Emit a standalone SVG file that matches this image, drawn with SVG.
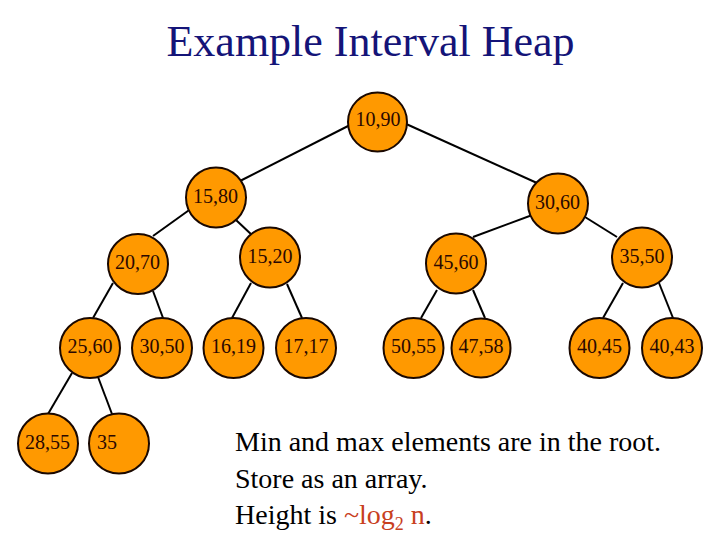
<svg xmlns="http://www.w3.org/2000/svg" width="720" height="540" viewBox="0 0 720 540">
<style>
.n circle{fill:#ff9900;stroke:#1a0800;stroke-width:2}
.n text{font-family:"Liberation Serif","Times New Roman",serif;font-size:20px;fill:#2a0800;text-anchor:middle}
.e line{stroke:#000;stroke-width:2}
.t{font-family:"Liberation Serif","Times New Roman",serif;font-size:28px;fill:#000}
.r{fill:#c8401e}
</style>
<rect width="720" height="540" fill="#fff"/>
<text x="370.5" y="56" font-family="'Liberation Serif','Times New Roman',serif" font-size="44" fill="#141478" text-anchor="middle">Example Interval Heap</text>
<g id="connectors" class="e">
<line x1="352" y1="124" x2="240" y2="181"/>
<line x1="404" y1="123" x2="537" y2="183"/>
<line x1="192" y1="208" x2="153" y2="236"/>
<line x1="236" y1="220" x2="253" y2="236"/>
<line x1="535" y1="214" x2="473" y2="237"/>
<line x1="585" y1="217" x2="617" y2="237"/>
<line x1="113" y1="283" x2="93" y2="318"/>
<line x1="153" y1="291" x2="163" y2="318"/>
<line x1="251" y1="283" x2="232" y2="318"/>
<line x1="287" y1="284" x2="302" y2="318"/>
<line x1="437" y1="290" x2="421" y2="318"/>
<line x1="473" y1="290" x2="485" y2="318"/>
<line x1="623" y1="283" x2="603" y2="318"/>
<line x1="659" y1="283" x2="673" y2="318"/>
<line x1="72" y1="373" x2="48" y2="414"/>
<line x1="98" y1="377" x2="112" y2="414"/>
</g>
<g id="n1090" class="n"><circle cx="377.5" cy="122" r="29.5"/><text x="378" y="126">10,90</text></g>
<g id="n1580" class="n"><circle cx="216" cy="197.5" r="30"/><text x="215.5" y="203">15,80</text></g>
<g id="n3060" class="n"><circle cx="558" cy="203.5" r="30"/><text x="557.5" y="209">30,60</text></g>
<g id="n2070" class="n"><circle cx="138" cy="264" r="30"/><text x="137.5" y="269">20,70</text></g>
<g id="n1520" class="n"><circle cx="270" cy="257.5" r="30"/><text x="270" y="263">15,20</text></g>
<g id="n4560" class="n"><circle cx="456" cy="263.5" r="30"/><text x="456" y="269">45,60</text></g>
<g id="n3550" class="n"><circle cx="642" cy="257.5" r="30"/><text x="642" y="263">35,50</text></g>
<g id="n2560" class="n"><circle cx="90" cy="348" r="30"/><text x="90" y="353">25,60</text></g>
<g id="n3050" class="n"><circle cx="162" cy="348" r="30"/><text x="162" y="353">30,50</text></g>
<g id="n1619" class="n"><circle cx="233.5" cy="348" r="30"/><text x="233.5" y="353">16,19</text></g>
<g id="n1717" class="n"><circle cx="306" cy="348" r="30"/><text x="306" y="353">17,17</text></g>
<g id="n5055" class="n"><circle cx="413.5" cy="348" r="30"/><text x="413.5" y="353">50,55</text></g>
<g id="n4758" class="n"><circle cx="481" cy="348" r="29.5"/><text x="481" y="353">47,58</text></g>
<g id="n4045" class="n"><circle cx="599.5" cy="348" r="30"/><text x="599.5" y="353">40,45</text></g>
<g id="n4043" class="n"><circle cx="672" cy="348" r="30"/><text x="672" y="353">40,43</text></g>
<g id="n2855" class="n"><circle cx="48" cy="443.5" r="30"/><text x="47.5" y="449">28,55</text></g>
<g id="n35" class="n"><circle cx="119" cy="443.5" r="30"/><text x="97" y="449" style="text-anchor:start">35</text></g>
<g id="notes">
<text class="t" x="235" y="451">Min and max elements are in the root.</text>
<text class="t" x="235" y="488">Store as an array.</text>
<text class="t" x="235" y="524">Height is <tspan class="r">~log</tspan><tspan class="r" font-size="18" dy="6">2</tspan><tspan class="r" dy="-6"> n</tspan>.</text>
</g>
</svg>
